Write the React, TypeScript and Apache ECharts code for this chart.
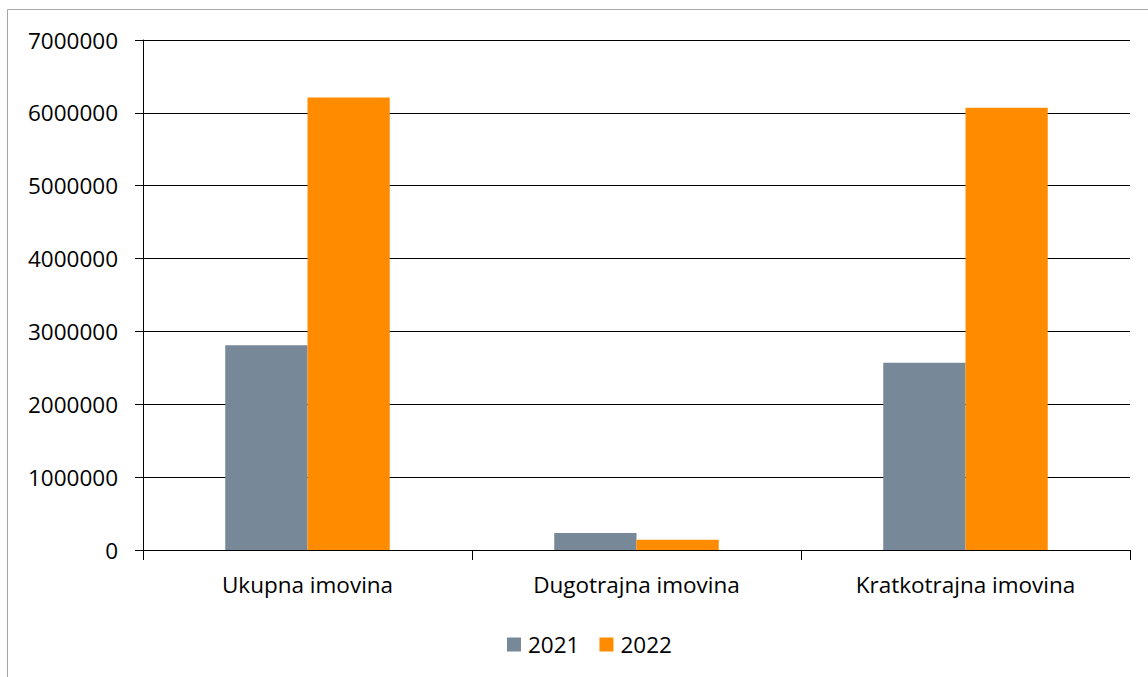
import React, { useEffect, useRef } from "react";
import * as echarts from "echarts";

const categories = ["Ukupna imovina", "Dugotrajna imovina", "Kratkotrajna imovina"];
const series2021 = [2810000, 235000, 2570000];
const series2022 = [6210000, 140000, 6070000];
const seriesNames = ["2021", "2022"];

export default function App() {
  const ref = useRef<HTMLDivElement>(null);
  useEffect(() => {
    const chart = echarts.init(ref.current!, null, { renderer: "svg" });
    const font = "'Open Sans', sans-serif";
    chart.setOption({
      animation: false,
      backgroundColor: "#ffffff",
      graphic: [
        {
          type: "rect",
          shape: { x: 7.5, y: 9.5, width: 1160, height: 700 },
          style: { fill: "none", stroke: "#a6a6a6", lineWidth: 1 },
          silent: true,
        },
      ],
      grid: { left: 143, right: 18, top: 40, bottom: 127 },
      legend: {
        left: 502,
        top: 628,
        itemWidth: 14,
        itemHeight: 14,
        itemGap: 20,
        icon: "rect",
        textStyle: { fontFamily: font, fontSize: 22.5, color: "#000", padding: [0, 0, 0, 2] },
        data: seriesNames,
      },
      xAxis: {
        type: "category",
        data: categories,
        axisLine: { lineStyle: { color: "#000", width: 1 } },
        axisTick: { show: true, alignWithLabel: false, length: 10, lineStyle: { color: "#000" } },
        axisLabel: { fontFamily: font, fontSize: 22.5, color: "#000", margin: 23 },
      },
      yAxis: {
        type: "value",
        min: 0,
        max: 7000000,
        interval: 1000000,
        axisLine: { show: true, lineStyle: { color: "#000", width: 1 } },
        axisTick: { show: true, length: 8, lineStyle: { color: "#000" } },
        axisLabel: {
          fontFamily: font,
          fontSize: 22.5,
          color: "#000",
          margin: 25,
          formatter: (v: number) => String(v),
        },
        splitLine: { show: true, lineStyle: { color: "#000", width: 1 } },
      },
      series: [
        {
          name: seriesNames[0],
          type: "bar",
          data: series2021,
          itemStyle: { color: "#778899" },
          barGap: "0%",
          barCategoryGap: "50%",
        },
        {
          name: seriesNames[1],
          type: "bar",
          data: series2022,
          itemStyle: { color: "#FF8C00" },
          barGap: "0%",
          barCategoryGap: "50%",
        },
      ],
    });
    return () => chart.dispose();
  }, []);
  return (
    <div
      ref={ref}
      style={{ position: "fixed", left: 0, top: 0, width: 1148, height: 677 }}
    />
  );
}
